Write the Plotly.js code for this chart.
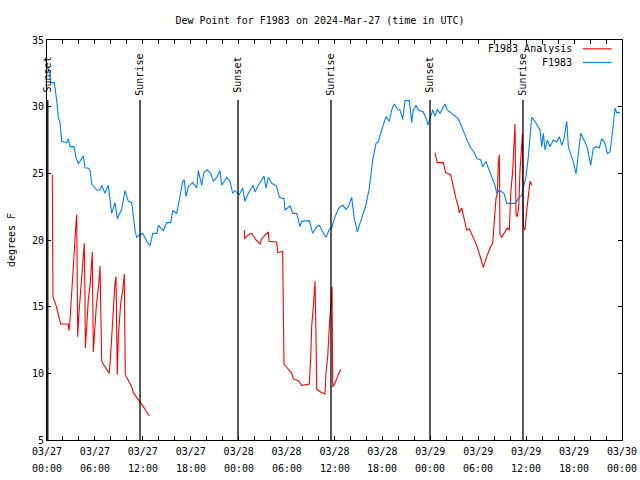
<!DOCTYPE html>
<html>
<head>
<meta charset="utf-8">
<script src="https://cdn.plot.ly/plotly-3.0.1.min.js"></script>
<style>html,body{margin:0;padding:0;background:#fff;}#chart{width:640px;height:480px;}</style>
</head>
<body>
<div id="chart"></div>
<script>
// hours since 2024-03-27 00:00 UTC
const obsHours = [0.09,0.38,0.44,0.91,1.21,1.41,1.63,1.84,2.47,2.67,2.88,3.38,3.63,3.92,4.13,4.55,4.76,5.13,5.38,5.60,6.22,6.64,6.85,7.26,7.68,7.89,8.10,8.52,8.80,9.35,9.77,10.18,10.61,11.02,11.23,11.65,11.98,12.48,12.90,13.24,13.77,13.94,14.56,14.99,15.49,15.74,16.24,16.65,16.99,17.19,17.41,17.69,18.24,18.75,18.95,19.37,19.66,20.07,20.50,20.82,21.25,21.66,21.88,22.50,22.92,23.25,23.54,24.08,24.51,24.79,25.21,25.83,26.05,26.46,26.88,27.17,27.42,27.71,28.14,28.76,29.09,29.68,29.80,30.43,30.77,31.27,31.68,31.89,32.85,33.02,33.27,33.77,34.10,34.52,34.94,35.35,35.65,36.06,36.60,37.03,37.44,37.73,38.15,38.44,38.86,39.19,39.53,39.91,40.36,40.78,41.20,41.48,41.91,42.45,42.86,43.16,43.49,43.91,44.20,44.54,44.83,45.37,45.67,45.87,46.21,46.49,47.12,47.55,47.67,48.05,48.30,48.58,48.87,49.21,49.84,50.12,50.55,50.96,51.50,51.93,52.34,52.76,53.06,53.47,53.81,54.31,54.56,54.97,55.26,55.69,56.10,56.31,56.64,57.22,57.56,58.60,59.02,59.44,59.64,59.98,60.27,60.48,60.69,61.11,61.73,61.95,62.15,62.36,62.65,62.99,63.40,63.83,64.15,64.45,64.74,65.08,65.28,65.58,65.90,66.24,66.53,66.83,67.24,67.66,68.08,68.41,68.83,69.16,69.46,69.87,70.16,70.50,70.84,71.13,71.34,71.75];
const obsDew = [32.9,32.4,31.8,31.8,30.5,29.2,28.8,27.4,27.3,27.6,27.0,27.0,26.2,25.75,25.9,26.3,25.4,25.4,25.25,24.2,23.75,23.75,24.1,23.5,24.1,22.8,22.0,22.8,21.6,22.3,23.7,22.9,22.8,20.75,20.2,20.4,20.5,19.9,19.55,20.5,20.5,21.1,20.7,21.3,21.3,22.2,22.0,23.25,24.4,24.5,23.25,24.0,24.3,23.9,25.2,24.1,25.1,25.25,25.0,24.4,24.7,25.2,24.1,24.7,24.4,23.5,23.7,23.4,23.9,22.9,23.5,24.1,23.6,24.1,24.5,24.8,23.9,24.7,24.25,24.05,23.2,23.1,22.25,22.55,22.0,22.0,21.0,21.4,21.45,21.0,20.5,21.0,21.1,20.6,20.2,20.8,20.9,21.75,22.45,22.6,22.3,22.5,23.2,21.75,20.6,21.25,21.95,22.55,23.9,26.0,27.25,27.35,28.25,29.25,28.9,29.75,30.2,29.8,29.75,29.05,30.45,30.45,28.8,29.75,30.1,29.75,29.6,29.0,28.6,29.2,29.75,29.3,29.8,29.5,30.2,29.75,29.55,29.4,29.1,28.5,27.85,27.25,26.9,26.6,26.1,26.0,25.5,25.9,25.4,24.75,24.1,23.5,23.75,23.5,22.75,22.75,23.1,23.35,23.9,24.75,26.25,28.0,29.2,28.9,28.25,27.0,28.0,26.75,27.5,27.0,27.5,27.35,27.75,27.1,27.6,28.9,27.0,26.4,25.9,24.95,26.4,28.0,27.5,26.9,25.6,26.9,27.0,26.9,27.6,27.25,26.5,26.6,28.25,29.9,29.55,29.55];

const anaHours = [0.66,0.70,0.75,1.13,1.29,1.54,1.72,2.67,2.75,2.85,2.97,3.09,3.22,3.38,3.51,3.63,3.72,3.79,3.84,3.97,4.13,4.22,4.35,4.47,4.67,4.76,4.80,4.97,5.17,5.38,5.51,5.67,5.80,5.92,6.14,6.30,6.47,6.64,6.85,7.14,7.48,7.80,7.98,8.18,8.39,8.51,8.64,8.80,8.93,9.23,9.48,9.68,9.80,10.18,10.61,10.81,11.23,11.65,12.06,12.48,12.81,
  18.0,
  24.71,24.72,25.21,25.63,26.17,26.67,26.88,27.71,27.80,28.76,28.89,29.51,29.59,29.68,30.09,30.64,30.84,31.47,31.89,32.85,33.02,33.15,33.35,33.56,33.68,33.77,34.27,34.81,34.94,35.15,35.35,35.53,35.69,35.78,36.06,36.48,36.78,
  42.0,
  48.58,48.87,49.62,49.92,50.55,50.88,51.21,51.50,51.63,51.93,52.22,52.55,52.88,53.31,53.81,54.22,54.63,55.06,55.47,55.81,56.01,56.22,56.39,56.51,56.64,56.72,56.94,57.35,57.64,57.89,58.07,58.32,58.48,58.60,58.73,58.89,59.07,59.23,59.44,59.54,59.64,59.85,60.07,60.27,60.48,60.73];
const anaDew = [24.9,20.4,15.75,15.1,14.75,14.1,13.7,13.7,13.2,13.7,15.0,16.25,17.5,18.75,20.0,21.25,21.9,17.25,12.75,14.25,15.25,16.25,17.25,18.25,19.75,15.5,11.9,13.5,15.5,16.5,17.5,19.1,11.6,13.0,14.75,15.75,16.6,18.05,10.9,10.6,10.25,10.0,11.5,13.6,15.5,16.75,17.25,9.9,12.75,15.25,16.25,17.45,9.9,9.5,9.0,8.55,8.2,7.9,7.5,7.1,6.8,
  null,
  20.75,20.1,20.4,20.5,20.0,19.7,20.1,20.6,19.9,19.85,19.05,19.15,14.9,10.7,10.4,10.0,9.6,9.45,9.1,9.2,11.25,13.6,15.0,16.9,12.9,8.8,8.6,8.45,10.1,11.25,13.5,14.75,16.5,9.0,9.25,9.9,10.3,
  null,
  26.55,25.8,25.8,25.05,24.9,23.95,23.1,22.5,22.05,22.4,21.5,20.75,20.85,20.25,19.6,18.8,17.95,18.75,19.4,19.75,21.6,23.1,23.5,25.75,26.4,20.4,20.2,20.6,20.9,20.75,23.5,25.25,27.1,28.7,21.9,21.75,22.5,25.25,27.1,27.95,21.0,20.75,22.2,23.4,24.4,24.1];

const sunEventHours = [0.1, 11.65, 23.92, 35.56, 47.96, 59.6];
const sunEventLabels = ["Sunset","Sunrise","Sunset","Sunrise","Sunset","Sunrise"];

const xTickVals = [0,6,12,18,24,30,36,42,48,54,60,66,72];
const xTickDates = ["03/27","03/27","03/27","03/27","03/28","03/28","03/28","03/28","03/29","03/29","03/29","03/29","03/30"];
const xTickTimes = ["00:00","06:00","12:00","18:00","00:00","06:00","12:00","18:00","00:00","06:00","12:00","18:00","00:00"];

const seriesNames = ["F1983 Analysis", "F1983"];
const seriesColors = ["#ff0000", "#0080ff"];

const FONT = "DejaVu Sans Mono, monospace";

const traces = [
  {x: anaHours, y: anaDew, type: "scatter", mode: "lines", name: seriesNames[0], connectgaps: false,
   line: {color: seriesColors[0], width: 1.1}, showlegend: false},
  {x: obsHours, y: obsDew, type: "scatter", mode: "lines", name: seriesNames[1],
   line: {color: seriesColors[1], width: 1.1}, showlegend: false}
];

const shapes = [];
const annotations = [];
sunEventHours.forEach((h, i) => {
  shapes.push({type: "line", xref: "x", yref: "y", x0: h, x1: h, y0: 5, y1: 30.5,
    line: {color: "#000", width: 1.3}, layer: "above"});
  annotations.push({xref: "x", yref: "y", x: h, y: 32.4, text: sunEventLabels[i], textangle: -90,
    showarrow: false, xanchor: "center", yanchor: "middle", font: {family: FONT, size: 10, color: "#000"}});
});

// second row of the time axis labels (hour of day)
xTickVals.forEach((v, i) => {
  annotations.push({xref: "x", yref: "paper", x: v, y: 0, yshift: -28, text: xTickTimes[i],
    showarrow: false, xanchor: "center", yanchor: "middle", font: {family: FONT, size: 10, color: "#000"}});
});

// manual gnuplot-style legend (text right, sample line to the right)
const legY = [0.978, 0.944];
seriesNames.forEach((n, i) => {
  annotations.push({xref: "paper", yref: "paper", x: 0.9165, y: legY[i], text: n, showarrow: false,
    xanchor: "right", yanchor: "middle", font: {family: FONT, size: 10, color: "#000"}});
  shapes.push({type: "line", xref: "paper", yref: "paper", x0: 0.932, x1: 0.982, y0: legY[i], y1: legY[i],
    line: {color: seriesColors[i], width: 1.1}});
});

const layout = {
  width: 640, height: 480,
  margin: {l: 47, r: 18, t: 40, b: 40},
  paper_bgcolor: "#fff", plot_bgcolor: "#fff",
  font: {family: FONT, size: 10, color: "#000"},
  title: {text: "Dew Point for F1983 on 2024-Mar-27 (time in UTC)", x: 0.5, xanchor: "center",
    y: 0.958, yanchor: "middle", font: {family: FONT, size: 10, color: "#000"}},
  xaxis: {range: [0, 72], tickmode: "array", tickvals: xTickVals, ticktext: xTickDates,
    ticks: "inside", ticklen: 4, tickcolor: "#000", tickwidth: 1, ticklabelstandoff: 2,
    minor: {dtick: 2, tick0: 0, ticks: "inside", ticklen: 4, tickcolor: "#000", tickwidth: 1},
    showline: true, linecolor: "#000", linewidth: 1, mirror: "allticks", showgrid: false, zeroline: false,
    tickfont: {family: FONT, size: 10, color: "#000"}},
  yaxis: {range: [5, 35], dtick: 5, tick0: 5, ticks: "inside", ticklen: 4, tickcolor: "#000",
    showline: true, linecolor: "#000", linewidth: 1, mirror: "allticks", showgrid: false, zeroline: false,
    tickfont: {family: FONT, size: 10, color: "#000"},
    title: {text: "degrees F", standoff: 14, font: {family: FONT, size: 10, color: "#000"}}},
  shapes: shapes,
  annotations: annotations,
  showlegend: false
};

Plotly.newPlot("chart", traces, layout, {displayModeBar: false, staticPlot: true});
</script>
</body>
</html>
